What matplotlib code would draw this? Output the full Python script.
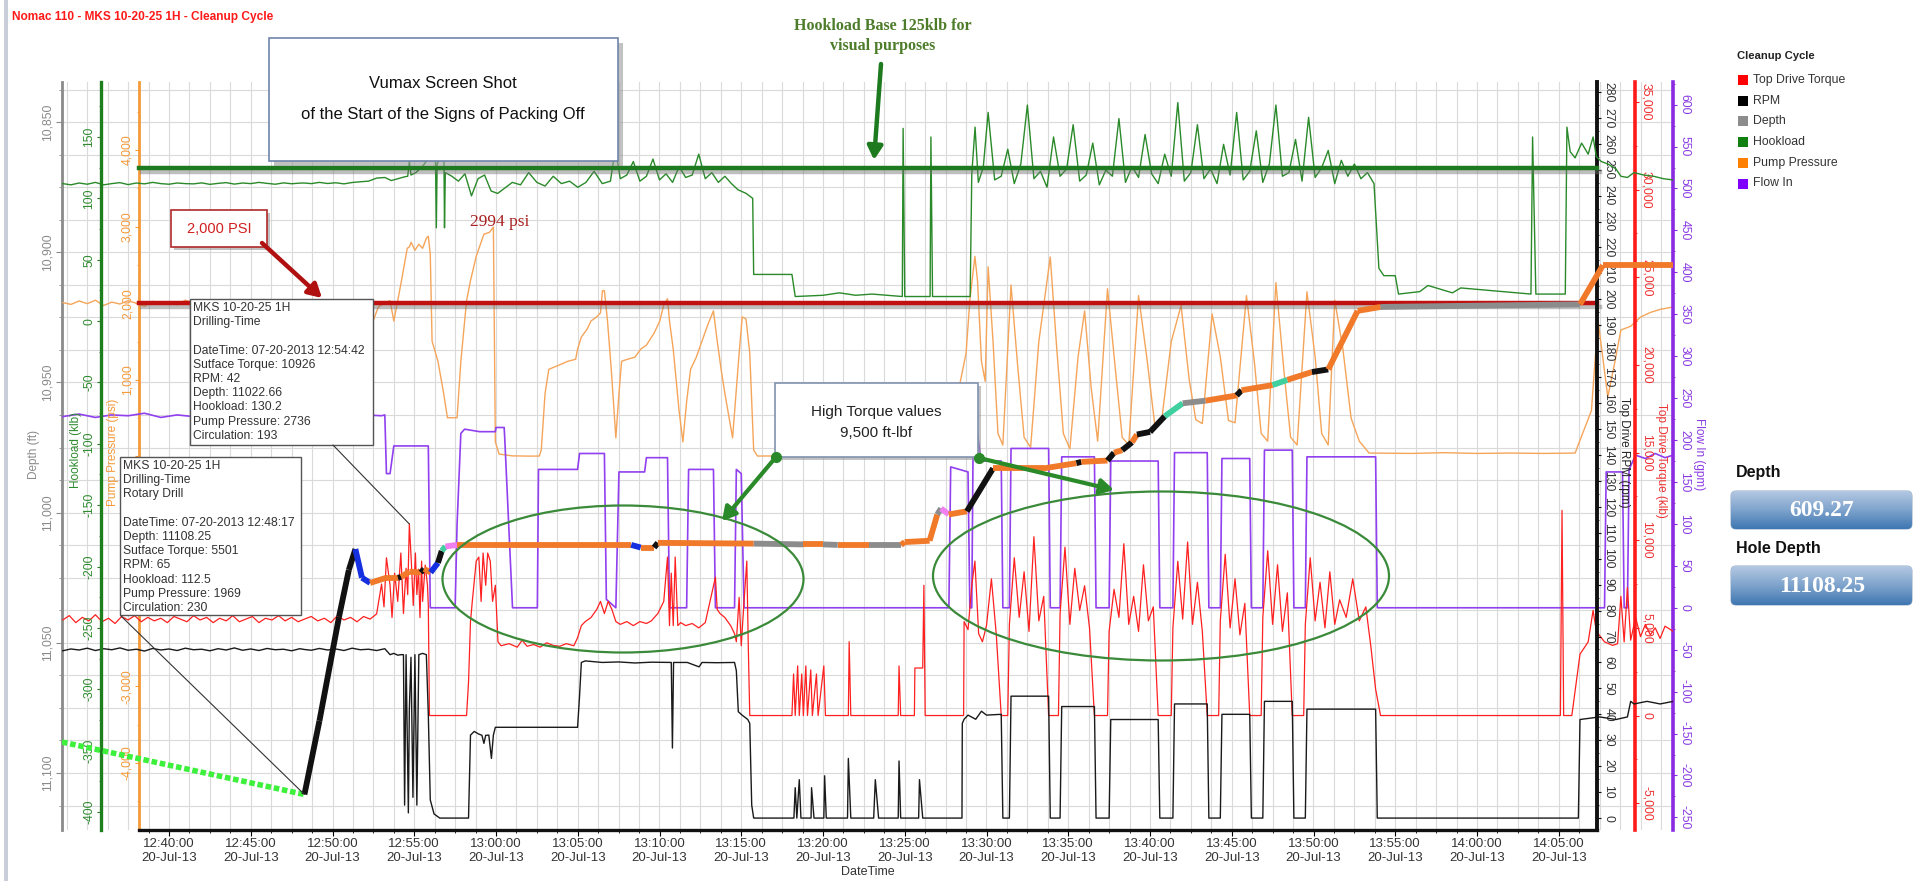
import numpy as np
import matplotlib
matplotlib.use("Agg")
import matplotlib.pyplot as plt
import matplotlib.dates as mdates
import matplotlib.patheffects as pe
from matplotlib.ticker import MultipleLocator, FuncFormatter
from matplotlib.patches import Rectangle, Ellipse, FancyBboxPatch
from datetime import datetime

plt.rcParams['font.family'] = ['Liberation Sans', 'DejaVu Sans']

# ---------------------------------------------------------------- data
# every series: (minutes after 12:40:00 on 20-Jul-13, value)
hookload_klb = [
    (-6.5, 112), (-6.0, 111), (-5.5, 112.5), (-5.0, 111.5), (-4.5, 113), (-4.0, 111), (-3.5, 112),
    (-3.0, 112.8), (-2.5, 111.2), (-2.0, 112.5), (-1.5, 111.8), (-1.0, 113), (-0.5, 112), (0.0, 111.5),
    (0.5, 112.5), (1.0, 112), (1.5, 111.8), (2.0, 112.6), (2.5, 111.4), (3.0, 112.2), (3.5, 112.8),
    (4.0, 111.6), (4.5, 112.5), (5.0, 112.0), (5.5, 113.0), (6.0, 112.2), (6.5, 111.5), (7.0, 112.6),
    (7.5, 111.9), (8.0, 112.4), (8.283, 112.5), (8.7, 112.0), (9.2, 113.0), (9.7, 112.1), (10.2, 112.7),
    (10.7, 111.8), (11.2, 112.9), (11.7, 113.5), (12.2, 114.0), (12.7, 116.5), (13.2, 117.0), (13.6, 114.5),
    (14.0, 116.0), (14.4, 117.5), (14.6, 118.0), (14.7, 130.2), (14.8, 119.0), (15.1, 121.0), (15.5, 126.0),
    (15.9, 133.0), (16.1, 135.0), (16.3, 131), (16.35, 76), (16.4, 128), (16.6, 134), (16.8, 160),
    (16.85, 76), (16.9, 121), (17.3, 118), (17.7, 114), (18.1, 120), (18.5, 102), (18.9, 116), (19.3, 119),
    (19.7, 106), (20.1, 104), (20.5, 108), (21.0, 113), (21.5, 111), (22.0, 121), (22.5, 113), (23.0, 110),
    (23.5, 118), (24.0, 112), (24.5, 114), (25.0, 109), (25.5, 113), (26.0, 122), (26.5, 112), (27.0, 114),
    (27.3, 141), (27.6, 116), (28.0, 119), (28.4, 130), (28.8, 114), (29.2, 118), (29.6, 132), (30.0, 115),
    (30.4, 120), (30.8, 113), (31.2, 126), (31.6, 117), (32.0, 119), (32.4, 136), (32.8, 116), (33.2, 121),
    (33.6, 113), (34.0, 118), (34.4, 112), (34.8, 107), (35.3, 104), (35.7, 100), (35.76, 38), (38.1, 38),
    (38.3, 20), (40.0, 21), (41.0, 23), (42.0, 21), (43.0, 22), (44.85, 20), (44.9, 157), (45.0, 20),
    (46.55, 20), (46.6, 150), (46.7, 20), (49.0, 20), (49.1, 120), (49.3, 158), (49.5, 113), (49.8, 125),
    (50.1, 170), (50.5, 115), (50.9, 118), (51.3, 140), (51.7, 112), (52.1, 128), (52.5, 176), (52.9, 116),
    (53.3, 122), (53.7, 109), (54.1, 150), (54.5, 118), (54.9, 124), (55.3, 160), (55.7, 114), (56.1, 119),
    (56.5, 145), (56.9, 111), (57.3, 123), (57.7, 118), (58.1, 165), (58.5, 113), (58.9, 126), (59.3, 117),
    (59.7, 152), (60.1, 120), (60.5, 112), (60.9, 136), (61.3, 118), (61.7, 178), (62.1, 114), (62.5, 121),
    (62.9, 160), (63.3, 116), (63.7, 124), (64.1, 112), (64.5, 144), (64.9, 119), (65.3, 170), (65.7, 115),
    (66.1, 122), (66.5, 155), (66.9, 113), (67.3, 128), (67.7, 176), (68.1, 118), (68.5, 121), (68.9, 148),
    (69.3, 114), (69.7, 166), (70.1, 117), (70.5, 125), (70.9, 139), (71.3, 112), (71.7, 131), (72.1, 118),
    (72.5, 128), (72.9, 116), (73.3, 121), (73.7, 112), (74.0, 43), (74.3, 37), (75.0, 37), (75.2, 22),
    (76.5, 24), (77.0, 29), (78.5, 23), (79.0, 27), (83.3, 22), (83.4, 150), (83.6, 22), (85.4, 22),
    (85.5, 158), (85.7, 138), (86.0, 133), (86.4, 145), (86.8, 136), (87.1, 150), (87.3, 134), (87.6, 130),
    (88.0, 128), (88.5, 124), (88.8, 118), (89.2, 117), (89.6, 121), (90.2, 119), (90.8, 118), (91.4, 116),
    (92.0, 115)]

pump_psi = [
    (-6.5, 2010), (-6.0, 1985), (-5.5, 2030), (-5.0, 1995), (-4.5, 2040), (-4.0, 1970), (-3.5, 2015),
    (-3.0, 1990), (-2.5, 2035), (-2.0, 2000), (-1.5, 1960), (-1.0, 2025), (-0.5, 1995), (0.0, 2010),
    (0.5, 1980), (1.0, 2040), (1.5, 2000), (2.0, 1975), (2.5, 2020), (3.0, 1990), (3.5, 2035), (4.0, 1985),
    (4.5, 2010), (5.0, 1965), (5.5, 2030), (6.0, 1995), (6.5, 2015), (7.0, 1980), (7.5, 2025), (8.0, 1990),
    (8.283, 1969), (8.7, 2020), (9.2, 1995), (9.7, 2030), (10.2, 1985), (10.7, 2015), (11.2, 2040),
    (11.7, 1990), (12.2, 1900), (12.5, 1780), (12.8, 1950), (13.2, 2010), (13.52, 2033), (13.75, 1769),
    (13.99, 2033), (14.22, 2296), (14.57, 2717), (14.7, 2736), (14.81, 2796), (15.04, 2691), (15.28, 2770),
    (15.51, 2717), (15.74, 2849), (15.86, 2875), (15.98, 2638), (16.09, 1506), (16.45, 1243), (16.80, 822),
    (17.03, 506), (17.62, 506), (17.85, 1243), (18.20, 2033), (18.44, 2296), (18.79, 2612), (19.26, 2901),
    (19.61, 2927), (19.84, 2994), (19.96, 190), (20.19, 32), (21.0, 8), (22.0, 5), (22.65, 6), (22.77, 85),
    (23.00, 822), (23.23, 1138), (23.82, 1190), (24.40, 1243), (24.87, 1269), (24.99, 1401), (25.22, 1559),
    (25.58, 1664), (25.81, 1769), (26.16, 1822), (26.39, 1875), (26.51, 2164), (26.63, 2164), (26.82, 1769),
    (27.05, 1138), (27.33, 243), (27.52, 822), (27.68, 1243), (28.03, 1269), (28.50, 1296), (28.85, 1401),
    (29.20, 1453), (29.67, 1611), (30.02, 1769), (30.26, 1980), (30.49, 2059), (30.61, 1769), (30.84, 1401),
    (31.19, 611), (31.43, 190), (31.66, 716), (31.90, 1138), (32.25, 1296), (32.60, 1506), (32.95, 1717),
    (33.30, 1901), (33.53, 1506), (33.77, 1138), (34.00, 822), (34.47, 243), (34.70, 875), (34.87, 1348),
    (35.06, 1822), (35.29, 1796), (35.52, 1348), (35.76, 85), (35.99, 6), (40.0, 10), (44.0, 5),
    (48.16, 8), (48.40, 980), (48.75, 1348), (48.98, 2033), (49.29, 2612), (49.45, 2296), (49.69, 1243),
    (49.92, 980), (50.1, 2476), (50.4, 1500), (50.7, 300), (51.0, 150), (51.5, 2238), (51.9, 1200),
    (52.3, 250), (52.7, 120), (53.2, 1500), (53.9, 2604), (54.3, 1400), (54.7, 300), (55.1, 100),
    (55.6, 1300), (56.0, 1900), (56.4, 900), (56.8, 200), (57.4, 2190), (57.9, 1100), (58.3, 250),
    (58.7, 150), (59.3, 2100), (59.8, 1300), (60.3, 400), (60.7, 450), (61.3, 1500), (61.9, 1970),
    (62.4, 1000), (62.8, 480), (63.2, 430), (63.8, 1860), (64.3, 1300), (64.8, 470), (65.2, 440),
    (65.9, 2100), (66.4, 1200), (66.8, 300), (67.2, 200), (67.7, 2270), (68.2, 1100), (68.6, 250),
    (69.0, 150), (69.6, 2150), (70.1, 1300), (70.5, 300), (70.9, 150), (71.3, 2040), (71.8, 1400),
    (72.3, 500), (72.8, 200), (73.4, 45), (76.0, 40), (78.0, 50), (80.0, 40), (82.0, 45), (84.0, 40),
    (86.0, 45), (87.0, 600), (87.4, 1782), (88.0, 777), (88.4, 1200), (88.8, 1651), (89.4, 1700),
    (90.0, 1820), (90.6, 1880), (91.2, 1920), (92.0, 1952)]

flow_gpm = [
    (-6.5, 228), (-5.5, 231), (-4.5, 227), (-3.5, 230), (-2.5, 229), (-1.5, 232), (-0.5, 227), (0.5, 230),
    (1.5, 228), (2.5, 231), (3.5, 229), (4.5, 227), (5.5, 230), (6.5, 228), (7.5, 231), (8.283, 230),
    (9.0, 229), (10.0, 231), (11.0, 228), (12.0, 230), (13.0, 229), (13.2, 230), (13.3, 160), (13.52, 160),
    (13.75, 193), (14.7, 193), (15.86, 193), (15.98, 0), (17.50, 0), (17.62, 100), (17.85, 208),
    (18.08, 213), (19.0, 210), (19.96, 210), (20.0, 215), (20.5, 215), (20.54, 200), (21.01, 0),
    (22.53, 0), (22.6, 165), (24.99, 165), (25.11, 184), (26.63, 184), (26.75, 10), (27.33, 0),
    (27.52, 162), (29.09, 162), (29.2, 179), (30.49, 179), (30.61, 0), (31.66, 0), (31.78, 165),
    (33.3, 165), (33.42, 0), (34.59, 0), (34.7, 165), (35.0, 160), (35.17, 0), (47.7, 0), (47.81, 168),
    (48.87, 162), (48.98, 0), (49.1, 0), (49.2, 245), (49.6, 185), (49.7, 175), (50.9, 175), (51.0, 0),
    (51.4, 0), (51.5, 190), (53.8, 190), (53.9, 0), (54.5, 0), (54.6, 180), (56.6, 180), (56.7, 0),
    (57.5, 0), (57.6, 175), (60.5, 175), (60.6, 0), (61.4, 0), (61.5, 185), (63.5, 185), (63.6, 0),
    (64.3, 0), (64.4, 178), (66.1, 178), (66.2, 0), (66.9, 0), (67.0, 188), (68.7, 188), (68.8, 0),
    (69.5, 0), (69.6, 180), (73.8, 180), (73.9, 0), (87.8, 0), (87.9, 162), (88.9, 162), (89.0, 0),
    (89.2, 0), (89.3, 165), (89.7, 182), (90.3, 178), (90.9, 184), (91.5, 179), (92.0, 182)]

torque_ftlbf = [
    (-6.5, 5450), (-6.1, 5700), (-5.7, 5300), (-5.3, 5600), (-4.9, 5400), (-4.5, 5750), (-4.1, 5350),
    (-3.7, 5550), (-3.3, 5250), (-2.9, 5650), (-2.5, 5450), (-2.1, 5700), (-1.7, 5350), (-1.3, 5600),
    (-0.9, 5400), (-0.5, 5550), (-0.1, 5300), (0.3, 5650), (0.7, 5500), (1.1, 5350), (1.5, 5700),
    (1.9, 5450), (2.3, 5600), (2.7, 5300), (3.1, 5550), (3.5, 5400), (3.9, 5700), (4.3, 5350), (4.7, 5500),
    (5.1, 5650), (5.5, 5300), (5.9, 5550), (6.3, 5450), (6.7, 5700), (7.1, 5400), (7.5, 5600), (7.9, 5350),
    (8.283, 5501), (8.7, 5650), (9.1, 5400), (9.5, 5550), (9.9, 5300), (10.3, 5700), (10.7, 5450),
    (11.1, 5600), (11.5, 5350), (11.9, 5650), (12.3, 5500), (12.7, 5800), (13.0, 7500), (13.15, 6200),
    (13.3, 9000), (13.52, 7430), (13.64, 5590), (13.80, 8120), (13.99, 6510), (14.18, 9270), (14.34, 5820),
    (14.50, 8400), (14.60, 6900), (14.70, 10926), (14.82, 8810), (14.94, 6280), (15.07, 9270), (15.16, 6900),
    (15.26, 8350), (15.35, 5590), (15.45, 8810), (15.51, 6510), (15.67, 8580), (15.81, 7430), (15.86, 6280),
    (15.93, 0), (18.20, 0), (18.32, 1910), (18.44, 5360), (18.55, 6510), (18.79, 8810), (18.95, 9040),
    (19.09, 6510), (19.21, 9270), (19.37, 7430), (19.49, 9270), (19.65, 8810), (19.79, 6510), (19.96, 7430),
    (20.12, 4210), (20.31, 3980), (20.8, 4100), (21.3, 3900), (21.6, 4300), (21.9, 3950), (22.3, 4050),
    (22.7, 3900), (23.1, 4150), (23.5, 4000), (23.9, 3950), (24.3, 4100), (24.76, 3980), (24.99, 4440),
    (25.22, 5130), (25.46, 5360), (25.81, 5590), (26.16, 6050), (26.39, 6510), (26.63, 5820), (26.86, 6510),
    (27.09, 6050), (27.33, 5360), (27.6, 5200), (28.0, 5360), (28.4, 5130), (28.8, 5360), (29.2, 5250),
    (29.5, 5400), (29.9, 5820), (30.26, 6510), (30.49, 9040), (30.61, 5130), (30.72, 8120), (30.84, 5130),
    (30.96, 9040), (31.12, 5130), (31.3, 5300), (31.6, 5130), (32.0, 5250), (32.4, 5000), (32.8, 5300),
    (33.42, 7890), (33.53, 6050), (33.7, 5820), (34.0, 5590), (34.35, 5130), (34.59, 4670), (34.7, 4210),
    (34.87, 6740), (35.0, 3980), (35.17, 6510), (35.34, 8810), (35.43, 3980), (35.52, 0), (38.10, 0),
    (38.2, 2370), (38.3, 0), (38.45, 2830), (38.55, 0), (38.7, 2370), (38.8, 0), (38.95, 2830), (39.05, 0),
    (39.25, 2600), (39.35, 0), (39.6, 2370), (39.7, 0), (40.05, 2830), (40.15, 0), (41.55, 0), (41.6, 4210),
    (41.7, 0), (44.6, 0), (44.65, 2830), (44.75, 0), (45.59, 0), (45.62, 2710), (46.1, 2710), (46.17, 7430),
    (46.25, 0), (48.6, 0), (48.63, 5360), (48.87, 4900), (49.1, 7430), (49.29, 8810), (49.52, 4670),
    (49.75, 4210), (50.0, 5130), (50.3, 7800), (50.6, 4600), (50.9, 0), (51.3, 0), (51.4, 5200),
    (51.7, 9000), (52.0, 5600), (52.3, 8200), (52.6, 4800), (52.9, 10200), (53.2, 5400), (53.5, 6800),
    (53.8, 0), (54.4, 0), (54.5, 5800), (54.8, 9600), (55.1, 5200), (55.4, 8400), (55.7, 6000), (56.0, 7400),
    (56.3, 5000), (56.6, 0), (57.4, 0), (57.5, 4800), (57.8, 7200), (58.1, 5600), (58.4, 9800), (58.7, 5200),
    (59.0, 6800), (59.3, 4800), (59.6, 8600), (59.9, 5400), (60.2, 6200), (60.5, 0), (61.3, 0), (61.4, 5000),
    (61.7, 8800), (62.0, 5500), (62.3, 9900), (62.6, 5200), (62.9, 7600), (63.2, 4800), (63.5, 0), (64.2, 0),
    (64.3, 5400), (64.6, 9200), (64.9, 5000), (65.2, 7800), (65.5, 4600), (65.8, 6400), (66.1, 0),
    (66.8, 0), (66.9, 5600), (67.2, 9400), (67.5, 5200), (67.8, 8600), (68.1, 4800), (68.4, 7000),
    (68.7, 0), (69.4, 0), (69.5, 5200), (69.8, 9000), (70.1, 5400), (70.4, 7600), (70.7, 5000), (71.0, 8200),
    (71.3, 5200), (71.6, 6600), (72.0, 5600), (72.4, 7800), (72.8, 5400), (73.2, 6200), (73.5, 4000),
    (73.8, 1500), (74.1, 0), (85.1, 0), (85.2, 11700), (85.3, 0), (85.8, 0), (86.3, 3500), (86.8, 4200),
    (87.1, 6000), (87.3, 4800), (87.8, 4200), (88.3, 4000), (88.6, 4100), (88.8, 6800), (89.0, 4200),
    (89.2, 7300), (89.4, 4300), (89.7, 5600), (90.0, 4500), (90.3, 5200), (90.6, 4600), (90.9, 5000),
    (91.2, 4400), (91.5, 5100), (92.0, 4800)]

rpm_rpm = [
    (-6.5, 64.5), (-6.0, 65.2), (-5.5, 64.8), (-5.0, 65.5), (-4.5, 64.6), (-4.0, 65.3), (-3.5, 64.9),
    (-3.0, 65.6), (-2.5, 64.7), (-2.0, 65.1), (-1.5, 64.4), (-1.0, 65.4), (-0.5, 64.8), (0.0, 65.2),
    (0.5, 64.6), (1.0, 65.5), (1.5, 64.9), (2.0, 65.1), (2.5, 64.5), (3.0, 65.3), (3.5, 64.8), (4.0, 65.6),
    (4.5, 64.7), (5.0, 65.2), (5.5, 64.6), (6.0, 65.4), (6.5, 64.9), (7.0, 65.1), (7.5, 64.5), (8.0, 65.3),
    (8.283, 65.0), (8.7, 64.7), (9.2, 65.4), (9.7, 64.8), (10.2, 65.2), (10.7, 64.6), (11.2, 65.5),
    (11.7, 64.9), (12.2, 65.1), (12.7, 64.6), (13.2, 65.3), (13.52, 63), (13.75, 63.5), (13.99, 62.8),
    (14.18, 63), (14.34, 63), (14.41, 5), (14.50, 63), (14.64, 2), (14.70, 42), (14.80, 62), (14.92, 8),
    (15.04, 63), (15.16, 5), (15.28, 63), (15.51, 63.5), (15.74, 63), (15.86, 40), (15.98, 7), (16.21, 1.6),
    (16.56, 0), (18.32, 0), (18.44, 32), (18.67, 33.4), (18.91, 32.5), (19.14, 31.9), (19.26, 28.8),
    (19.37, 31.9), (19.56, 32), (19.72, 23), (19.84, 32), (19.96, 35), (20.19, 35), (24.99, 35), (25.11, 47),
    (25.22, 60), (25.46, 60.6), (26.5, 60), (27.5, 60.2), (28.5, 59.8), (29.5, 60.1), (30.72, 60),
    (30.79, 27), (30.86, 60), (31.7, 60), (32.42, 58.3), (32.6, 60), (33.5, 59.9), (34.59, 60), (34.70, 56.8),
    (34.82, 41), (35.05, 39.7), (35.4, 38), (35.52, 36.5), (35.64, 5), (35.76, 0), (38.22, 0), (38.3, 11.7),
    (38.4, 0), (38.55, 14.8), (38.65, 0), (39.27, 0), (39.3, 11.7), (39.45, 0), (40.05, 0), (40.1, 16.3),
    (40.2, 0), (41.5, 0), (41.55, 23), (41.7, 0), (43.1, 0), (43.2, 14.8), (43.4, 0), (44.6, 0), (44.65, 22),
    (44.75, 0), (45.85, 0), (45.9, 14.8), (46.1, 0), (48.5, 0), (48.52, 36.5), (48.63, 38.1), (48.87, 39.7),
    (49.34, 38.1), (49.69, 41.2), (50.0, 39.7), (50.9, 40), (51.0, 0), (51.4, 0), (51.5, 47), (53.8, 47),
    (53.9, 0), (54.5, 0), (54.6, 43), (56.6, 43), (56.7, 0), (57.5, 0), (57.6, 38), (60.5, 38), (60.6, 0),
    (61.4, 0), (61.5, 44), (63.5, 44), (63.6, 0), (64.3, 0), (64.4, 40), (66.1, 40), (66.2, 0), (66.9, 0),
    (67.0, 45), (68.7, 45), (68.8, 0), (69.5, 0), (69.6, 42), (73.8, 42), (73.9, 0), (86.2, 0), (86.3, 38),
    (87.5, 39), (88.5, 38), (89.2, 39), (89.4, 45), (89.6, 44), (90.4, 45), (91.2, 44), (92.0, 45)]

# depth trace: (minutes, ft, activity colour of the segment that starts here)
depth_ft = [
    (-6.544, 11088.1, 'lime'), (8.283, 11108.25, 'black'), (9.2, 11080, 'black'), (10.4, 11040, 'black'),
    (11.0, 11022, 'black'), (11.4, 11014, 'blue'), (11.8, 11025, 'blue'), (12.3, 11027, 'orange'),
    (13.3, 11025, 'orange'), (14.0, 11025, 'black'), (14.2, 11024.7, 'orange'), (14.7, 11022.66, 'orange'),
    (15.4, 11023, 'black'), (15.6, 11021.6, 'orange'), (16.0, 11023, 'blue'), (16.45, 11019.3, 'black'),
    (16.68, 11014.7, 'teal'), (16.91, 11013, 'pink'), (17.62, 11012.4, 'orange'), (28.27, 11012.4, 'blue'),
    (28.85, 11013.4, 'orange'), (29.67, 11013.4, 'black'), (29.9, 11011.6, 'orange'), (35.76, 11011.9, 'grey'),
    (38.8, 11012.2, 'orange'), (40.0, 11012.2, 'grey'), (40.9, 11012.4, 'orange'), (42.8, 11012.4, 'grey'),
    (44.77, 11012.4, 'orange'), (45.0, 11011.3, 'orange'), (46.52, 11010.8, 'orange'), (46.99, 11000.7, 'grey'),
    (47.22, 10998.4, 'pink'), (47.69, 11000.7, 'orange'), (48.8, 10999.5, 'black'), (50.4, 10983, 'orange'),
    (53.5, 10983, 'orange'), (55.5, 10981, 'black'), (55.8, 10980.5, 'orange'), (57.4, 10980, 'black'),
    (57.8, 10977, 'orange'), (58.3, 10976, 'black'), (58.9, 10973, 'orange'), (59.2, 10970, 'black'),
    (60.0, 10969, 'black'), (60.9, 10963, 'teal'), (62.0, 10958, 'grey'), (63.4, 10957, 'orange'),
    (65.3, 10955, 'black'), (65.6, 10953, 'orange'), (67.5, 10951, 'teal'), (68.4, 10949, 'orange'),
    (69.9, 10946, 'black'), (70.9, 10945, 'orange'), (72.7, 10922.5, 'orange'), (74.1, 10921, 'grey'),
    (86.3, 10920, 'orange'), (87.7, 10905, 'orange'), (92.0, 10905, 'orange')]

HOOKLOAD_BASE_KLB = 125
PUMP_LIMIT_PSI = 2000
PUMP_PEAK_PSI = 2994


def split(pairs):
    return [p[0] for p in pairs], [p[1] for p in pairs]


# ---------------------------------------------------------------- figure
W, H = 1919, 881
fig = plt.figure(figsize=(W / 100, H / 100), dpi=100)
fig.patch.set_facecolor('white')

BASE = mdates.date2num(datetime(2013, 7, 20, 12, 40))
PX_PER_MIN, PX_AT_BASE = 16.35, 169.0


def tn(m):
    return BASE + np.asarray(m, float) / 1440.0


def box(px0, py0, px1, py1):
    return [px0 / W, 1 - py1 / H, (px1 - px0) / W, (py1 - py0) / H]


PL, PR, PT, PB = 62, 1673, 82, 830
XMIN, XMAX = (PL - PX_AT_BASE) / PX_PER_MIN, (PR - PX_AT_BASE) / PX_PER_MIN
DEPTH_LIM = (11121.9, 10834.6)

ax = fig.add_axes(box(PL, PT, PR, PB))
ax.set_xlim(tn(XMIN), tn(XMAX))
ax.xaxis.set_minor_locator(MultipleLocator(1.25 / 1440))
ax.xaxis.set_major_locator(MultipleLocator(5 / 1440))
ax.tick_params(axis='x', which='both', bottom=False, labelbottom=False)


def comma_fmt(hidden=()):
    return FuncFormatter(lambda v, p: '' if round(v) in hidden else f"{v:,.0f}")


def style_y(a, side, pos, spine_color, label_color, lw, major, minor, lim, tick_len=3.0, pad=1.0,
            hidden=()):
    for s in a.spines.values():
        s.set_visible(False)
    sp = a.spines[side]
    sp.set_visible(True)
    sp.set_position(('axes', pos))
    sp.set_color(spine_color)
    sp.set_linewidth(lw)
    a.set_ylim(*lim)
    if side == 'left':
        a.yaxis.tick_left()
    else:
        a.yaxis.tick_right()
    a.yaxis.set_major_locator(MultipleLocator(major))
    a.yaxis.set_minor_locator(MultipleLocator(minor))
    a.yaxis.set_major_formatter(comma_fmt(hidden))
    a.tick_params(axis='y', which='major', colors=spine_color, labelcolor=label_color, labelsize=8.8,
                  length=tick_len, width=0.8, pad=pad, labelrotation=90 if side == 'left' else 270)
    a.tick_params(axis='y', which='minor', colors=spine_color, length=tick_len * 0.6, width=0.6)
    a.tick_params(axis='x', which='both', bottom=False, labelbottom=False, top=False)
    plt.setp(a.get_yticklabels(), va='center', ha='right' if side == 'left' else 'left')


style_y(ax, 'left', 0.0, '#8a8a8a', '#8a8a8a', 2.0, 50, 12.5, DEPTH_LIM, tick_len=4.0, pad=2.0)
ax.grid(True, which='both', color='#dadada', lw=0.8)
ax.set_axisbelow(True)

frac = lambda px: (px - PL) / (PR - PL)
axp = ax.twinx()
# pump labels at 0, -1,000 and -2,000 sit under the lower tooltip
style_y(axp, 'left', frac(139), '#f59a3a', '#f59a3a', 2.0, 1000, 500, (-4875, 4888),
        hidden=(0, -1000, -2000))
axf = ax.twinx()
style_y(axf, 'right', 1.0, '#8a2be2', '#8a3be2', 2.6, 50, 25, (-265, 627))
axt = ax.twinx()
style_y(axt, 'right', frac(1635), '#ff1a1a', '#ee3030', 2.6, 5000, 2500, (-6530, 36141))
axr = ax.twinx()
style_y(axr, 'right', frac(1597), '#111111', '#333333', 2.8, 10, 5, (-4.6, 283.8))
axh = ax.twinx()
style_y(axh, 'left', frac(101), '#1f7f1f', '#2e8b2e', 2.4, 50, 25, (-414.7, 194.8))

# thin traces
for a, pairs, c, lw in [(axp, pump_psi, '#f5a55a', 1.0), (axf, flow_gpm, '#9040ee', 1.2),
                        (axt, torque_ftlbf, '#ff2020', 0.9), (axr, rpm_rpm, '#1a1a1a', 1.0),
                        (axh, hookload_klb, '#2a8a2a', 1.0)]:
    t, v = split(pairs)
    a.plot(tn(t), v, color=c, lw=lw)

# reference lines across the time axis
x0f, x1f = frac(139), frac(1597)
shadow = [pe.SimpleLineShadow(offset=(2, -3), shadow_color='#707070', alpha=0.45), pe.Normal()]
axh.axhline(HOOKLOAD_BASE_KLB, x0f, x1f, color='#1e7a1e', lw=3.2, path_effects=shadow, zorder=5)
axp.axhline(PUMP_LIMIT_PSI, x0f, x1f, color='#c01010', lw=3.2, path_effects=shadow, zorder=5)

# thick depth trace, coloured by activity
axd = ax.twinx()
axd.set_ylim(*DEPTH_LIM)
axd.axis('off')
state_color = {'lime': '#3cf03c', 'black': '#111111', 'blue': '#1530e0', 'orange': '#f07a2a',
               'grey': '#8c8c8c', 'teal': '#40d0a0', 'pink': '#f080f0'}
for (t0, d0, st), (t1, d1, _) in zip(depth_ft[:-1], depth_ft[1:]):
    kw = dict(color=state_color[st], lw=4.2, solid_capstyle='butt')
    if st == 'lime':
        kw.update(ls=(0, (1.0, 0.5)), lw=4.0)
    axd.plot(tn([t0, t1]), [d0, d1], **kw)

# time axis drawn between the inner spines
XA0, XA1 = 139, 1597
axx = fig.add_axes(box(XA0, PT, XA1, PB))
axx.patch.set_visible(False)
axx.set_xlim(tn((XA0 - PX_AT_BASE) / PX_PER_MIN), tn((XA1 - PX_AT_BASE) / PX_PER_MIN))
for s in ['top', 'left', 'right']:
    axx.spines[s].set_visible(False)
axx.spines['bottom'].set_color('#111111')
axx.spines['bottom'].set_linewidth(2.4)
axx.set_yticks([])
axx.xaxis.set_major_locator(mdates.MinuteLocator(byminute=range(0, 60, 5)))
axx.xaxis.set_major_formatter(mdates.DateFormatter('%H:%M:%S\n%d-%b-%y'))
axx.xaxis.set_minor_locator(MultipleLocator(1.25 / 1440))
axx.tick_params(axis='x', which='major', labelsize=9.5, labelcolor='#333333', length=4, pad=2)
axx.tick_params(axis='x', which='minor', length=2.5)

# ---------------------------------------------------------------- overlay (pixel coordinates)
ov = fig.add_axes([0, 0, 1, 1], zorder=50)
ov.axis('off')
ov.patch.set_visible(False)

ov.add_patch(Rectangle((4, 0), 4, H, color='#c9cfd8', lw=0))
ov.text(12, 17, 'Nomac 110 - MKS 10-20-25 1H - Cleanup Cycle', color='#ff1a1a', fontsize=8.6,
        fontweight='bold', va='center')

# axis titles
ov.text(34, 454, 'Depth (ft)', rotation=90, color='#8a8a8a', fontsize=8.5, ha='center', va='center')
ov.text(76, 450, 'Hookload (klb)', rotation=90, color='#2e8b2e', fontsize=8.5, ha='center', va='center')
ov.text(113, 452, 'Pump Pressure (psi)', rotation=90, color='#f59a3a', fontsize=8.5, ha='center',
        va='center')
ov.text(1624, 452, 'Top Drive RPM (rpm)', rotation=270, color='#222222', fontsize=8.5, ha='center',
        va='center')
ov.text(1661, 460, 'Top Drive Torque (klb)', rotation=270, color='#ee3030', fontsize=8.5, ha='center',
        va='center')
ov.text(1699, 454, 'Flow In (gpm)', rotation=270, color='#8a3be2', fontsize=8.5, ha='center', va='center')
ov.text(868, 872, 'DateTime', color='#333333', fontsize=9, ha='center', va='center')


def shadow_box(x0, y0, x1, y1, ec, lw=1.2, off=4):
    ov.add_patch(Rectangle((x0 + off, y0 + off), x1 - x0, y1 - y0, color='#9a9a9a', alpha=0.6, lw=0))
    ov.add_patch(Rectangle((x0, y0), x1 - x0, y1 - y0, fc='white', ec=ec, lw=lw))


arrow = dict(arrowstyle='-|>,head_width=0.45,head_length=0.8', lw=3.2, shrinkA=0, shrinkB=0)

# title box
shadow_box(269, 38, 618, 161, '#6f84ab', off=5)
ov.text(443, 84, 'Vumax Screen Shot', fontsize=12, ha='center', va='center', color='#111111')
ov.text(443, 114, 'of the Start of the Signs of Packing Off', fontsize=12, ha='center', va='center',
        color='#111111')

# hookload base note
ov.text(883, 36, f'Hookload Base {HOOKLOAD_BASE_KLB}klb for\nvisual purposes', family='Liberation Serif',
        fontweight='bold', fontsize=11.5, color='#4d7c2a', ha='center', va='center', linespacing=1.3)
ov.annotate('', xy=(874, 160), xytext=(881, 64), arrowprops=dict(arrow, color='#1e7a1e'))

# pump pressure limit note
shadow_box(171, 210, 267, 247, '#b02a2a', off=3)
ov.text(219, 229, f'{PUMP_LIMIT_PSI:,} PSI', color='#d02020', fontsize=10.5, ha='center', va='center')
ov.annotate('', xy=(322, 298), xytext=(262, 243), arrowprops=dict(arrow, color='#b01010'))
ov.text(500, 222, f'{PUMP_PEAK_PSI} psi', family='Liberation Serif', fontsize=12.5, color='#a82020',
        ha='center', va='center')

# high torque note
ov.add_patch(Ellipse((623, 579), 361, 147, fill=False, ec='#3a8a3a', lw=1.6))
ov.add_patch(Ellipse((1161, 576), 456, 169, fill=False, ec='#3a8a3a', lw=1.6))
shadow_box(775, 383, 978, 457, '#8092ad', off=3)
ov.text(876, 412, 'High Torque values', fontsize=11, ha='center', va='center', color='#222222')
ov.text(876, 433, '9,500 ft-lbf', fontsize=11, ha='center', va='center', color='#222222')
for (xs, ys), (xe, ye) in [((776, 457), (722, 521)), ((979, 458), (1114, 490))]:
    ov.annotate('', xy=(xe, ye), xytext=(xs, ys), arrowprops=dict(arrow, color='#2a8a2a', lw=3.0))
    ov.plot([xs], [ys], 'o', color='#2a8a2a', ms=7)

# data tooltips
tip1 = ['MKS 10-20-25 1H', 'Drilling-Time', '', 'DateTime: 07-20-2013 12:54:42', 'Sutface Torque: 10926',
        'RPM: 42', 'Depth: 11022.66', 'Hookload: 130.2', 'Pump Pressure: 2736', 'Circulation: 193']
tip2 = ['MKS 10-20-25 1H', 'Drilling-Time', 'Rotary Drill', '', 'DateTime: 07-20-2013 12:48:17',
        'Depth: 11108.25', 'Sutface Torque: 5501', 'RPM: 65', 'Hookload: 112.5', 'Pump Pressure: 1969',
        'Circulation: 230']

line = dict(arrowstyle='-', color='#333333', lw=0.8, shrinkA=0, shrinkB=0)
ov.annotate('', xy=(tn(14.7), 10926), xycoords=axt.transData, xytext=(333, 445), textcoords='data',
            arrowprops=line)
ov.annotate('', xy=(tn(8.283), 11108.25), xycoords=axd.transData, xytext=(121, 616), textcoords='data',
            arrowprops=line)
ov.add_patch(Rectangle((190, 299), 183, 146, fc='white', ec='#555555', lw=1.0))
ov.add_patch(Rectangle((120, 457), 181, 158, fc='white', ec='#555555', lw=1.0))
for i, s in enumerate(tip1):
    ov.text(193, 308 + i * 14.2, s, fontsize=8.7, color='#333333', va='center')
for i, s in enumerate(tip2):
    ov.text(123, 466 + i * 14.2, s, fontsize=8.7, color='#333333', va='center')

# legend
ov.text(1737, 56, 'Cleanup Cycle', fontsize=8.1, fontweight='bold', color='#222222', va='center')
legend_items = [('Top Drive Torque', '#ff0000'), ('RPM', '#000000'), ('Depth', '#8c8c8c'),
                ('Hookload', '#108010'), ('Pump Pressure', '#ff8000'), ('Flow In', '#8000ff')]
for i, (name, c) in enumerate(legend_items):
    y = 80 + i * 20.7
    ov.add_patch(Rectangle((1738, y - 5), 10, 10, color=c, lw=0))
    ov.text(1753, y, name, fontsize=8.8, color='#333333', va='center')

# depth read-outs
grad = np.linspace(0, 1, 64).reshape(-1, 1)
cmap = matplotlib.colors.LinearSegmentedColormap.from_list('btn', ['#b3c8e2', '#7ea3cc', '#3f77b2'])
for title, val, ty, y0, y1 in [('Depth', '609.27', 472, 491, 529), ('Hole Depth', '11108.25', 548, 566, 605)]:
    ov.text(1736, ty, title, fontsize=11.5, fontweight='bold', color='#111111', va='center')
    fb = FancyBboxPatch((1731, y0), 181, y1 - y0, boxstyle='round,pad=0,rounding_size=5', fc='none',
                        ec='#9fb3cc', lw=0.8)
    ov.add_patch(fb)
    im = ov.imshow(grad, cmap=cmap, extent=(1731, 1912, y1, y0), aspect='auto', zorder=1)
    im.set_clip_path(fb)
    ov.text(1822, (y0 + y1) / 2 + 1, val, family='Liberation Serif', fontweight='bold', fontsize=17,
            color='white', ha='center', va='center', zorder=3)
ov.set_xlim(0, W)
ov.set_ylim(H, 0)

fig.savefig('out.png', dpi=100, facecolor='white')
